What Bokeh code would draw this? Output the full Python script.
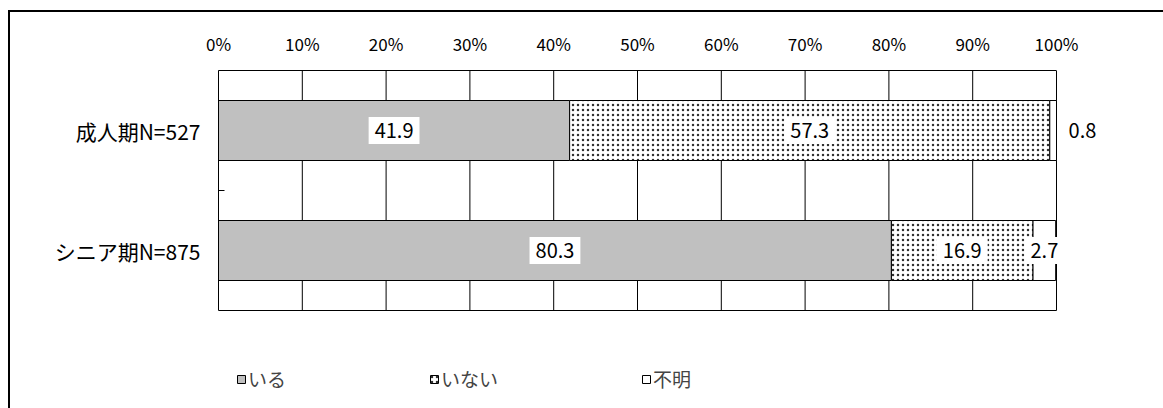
from bokeh.plotting import figure
from bokeh.models import (ColumnDataSource, Range1d, FixedTicker, Label,
                          Legend, LegendItem)
from bokeh.embed import file_html
from bokeh.resources import INLINE

# ---- data ----
categories = ["成人期N=527", "シニア期N=875"]
series_names = ["いる", "いない", "不明"]
iru = [41.9, 80.3]
inai = [57.3, 16.9]
fumei = [0.8, 2.7]
x_ticks = [0, 10, 20, 30, 40, 50, 60, 70, 80, 90, 100]
x_tick_labels = ["0%", "10%", "20%", "30%", "40%", "50%", "60%", "70%", "80%", "90%", "100%"]

FONT = "Noto Sans CJK JP"

series = [iru, inai, fumei]
n = len(categories)
ys = [i + 0.5 for i in range(n)]

PLOT_W = 838          # pixels for 0..100 %
EXTRA_W = 80          # room right of 100 % for outside labels
PLOT_H = 240          # pixels for the category area
FRAME_H = 338         # frame extends down to hold the legend
x_end = 100 + 100 * EXTRA_W / PLOT_W
y_bottom = n * FRAME_H / PLOT_H

p = figure(width=1153, height=396, frame_width=PLOT_W + EXTRA_W, frame_height=FRAME_H,
           x_range=Range1d(0, x_end), y_range=Range1d(y_bottom, 0),
           x_axis_location="above",
           min_border_left=208, min_border_right=27,
           min_border_top=58, min_border_bottom=0,
           output_backend="svg", toolbar_location=None)

p.styles = {"margin-left": "8px", "margin-top": "10px",
            "border-left": "2px solid black", "border-top": "2px solid black"}

p.outline_line_color = None
p.background_fill_color = "white"
p.border_fill_color = "white"
p.xgrid.grid_line_color = None
p.ygrid.grid_line_color = None

# top x axis
xa = p.xaxis[0]
xa.ticker = FixedTicker(ticks=x_ticks)
xa.bounds = (0, 100)
xa.major_label_overrides = {t: l for t, l in zip(x_ticks, x_tick_labels)}
xa.axis_line_color = "black"
xa.major_tick_line_color = None
xa.minor_tick_line_color = None
xa.major_tick_out = 0
xa.major_tick_in = 0
xa.major_label_standoff = 15
xa.major_label_text_font = FONT
xa.major_label_text_font_size = "17px"
xa.major_label_text_color = "black"

# left y axis (categories)
ya = p.yaxis[0]
ya.ticker = FixedTicker(ticks=ys, minor_ticks=[i for i in range(1, n)])
ya.bounds = (0, n)
ya.major_label_overrides = {y: c for y, c in zip(ys, categories)}
ya.axis_line_color = "black"
ya.major_tick_line_color = None
ya.major_tick_out = 0
ya.major_tick_in = 0
ya.minor_tick_line_color = "black"
ya.minor_tick_in = 6
ya.minor_tick_out = 0
ya.major_label_standoff = 18
ya.major_label_text_font = FONT
ya.major_label_text_font_size = "21px"
ya.major_label_text_color = "black"

# vertical gridlines (0..100 %) and bottom edge of the plot area
p.segment(x0=x_ticks, x1=x_ticks, y0=[0] * len(x_ticks), y1=[n] * len(x_ticks),
          line_color="black", line_width=1)
p.segment(x0=[x_ticks[0]], x1=[x_ticks[-1]], y0=[n], y1=[n],
          line_color="black", line_width=1)

# bars
styles = [
    dict(fill_color="#C0C0C0"),
    dict(fill_color="white", hatch_pattern="dot", hatch_color="#303030",
         hatch_scale=5, hatch_weight=1.8),
    dict(fill_color="white"),
]
renderers = []
left = [0.0] * n
for name, vals, st in zip(series_names, series, styles):
    right = [l + v for l, v in zip(left, vals)]
    src = ColumnDataSource(dict(y=ys, left=left, right=right))
    r = p.hbar(y="y", left="left", right="right", height=0.5, source=src,
               line_color="black", line_width=1, **st)
    renderers.append(r)
    for y, l, v in zip(ys, left, vals):
        small = v < 1.5
        p.add_layout(Label(x=100.0 if small else l + v / 2, y=y,
                           x_offset=26 if small else 0,
                           text=f"{v:.1f}", text_align="center", text_baseline="middle",
                           text_font=FONT, text_font_size="20px", text_color="black",
                           background_fill_color="white", padding=6))
    left = right

legend = Legend(items=[LegendItem(label=nm, renderers=[r]) for nm, r in zip(series_names, renderers)],
                orientation="horizontal", location=(18, 16), spacing=143,
                glyph_width=10, glyph_height=10, label_standoff=2,
                label_text_font=FONT, label_text_font_size="19px",
                padding=0, margin=0, border_line_color=None,
                background_fill_alpha=0)
p.add_layout(legend)

open("out.html", "w").write(file_html(p, INLINE))
